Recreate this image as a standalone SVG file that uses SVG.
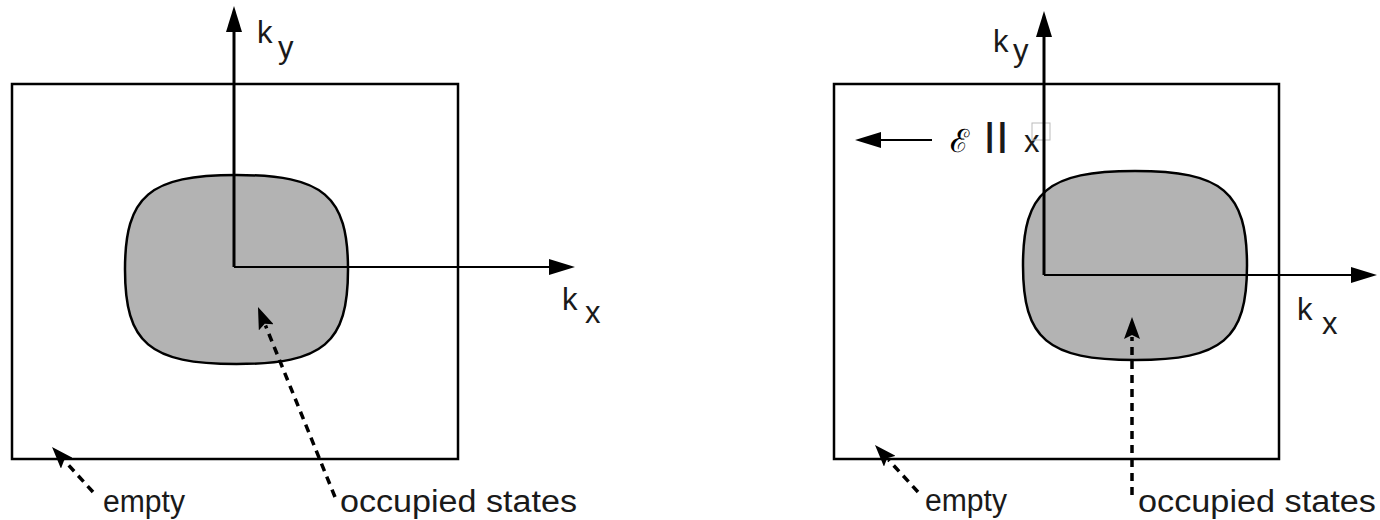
<svg xmlns="http://www.w3.org/2000/svg" width="1380" height="520" viewBox="0 0 1380 520">
<style>
.box{fill:none;stroke:#000;stroke-width:2.5}
.blob{fill:#b3b3b3;stroke:#000;stroke-width:2.5}
.axv{fill:none;stroke:#000;stroke-width:3}
.axh{fill:none;stroke:#000;stroke-width:2}
.dash{fill:none;stroke:#000;stroke-width:3.5;stroke-dasharray:8 6}
.t{font-family:"Liberation Sans",Arial,sans-serif;fill:#1a1a1a}
.lbl{font-size:31px}
.ax{font-size:31px}
</style>
<defs>
<marker id="ah" viewBox="0 0 26 16" refX="2" refY="8" markerWidth="26" markerHeight="16" markerUnits="userSpaceOnUse" orient="auto">
<path d="M0,0 L26,8 L0,16 z" fill="#000"/>
</marker>
<marker id="dh" viewBox="0 0 22 16" refX="2" refY="8" markerWidth="22" markerHeight="16" markerUnits="userSpaceOnUse" orient="auto">
<path d="M0,0 L22,8 L0,16 L4,8 z" fill="#000"/>
</marker>
</defs>

<g id="left-panel">
<rect class="box" x="12" y="84" width="446" height="375"/>
<path id="left-blob" class="blob" d="M236.5,175 C323.5,175 348,195.8 348,269.5 C348,343.2 323.5,364 236.5,364 C149.5,364 125,343.2 125,269.5 C125,195.8 149.5,175 236.5,175 Z"/>
<text class="t ax" x="257" y="43">k</text>
<text class="t ax" x="278" y="58">y</text>
<text class="t ax" x="562" y="310">k</text>
<text class="t ax" x="585" y="323">x</text>
<text class="t lbl" x="103" y="512" textLength="82" lengthAdjust="spacingAndGlyphs">empty</text>
<text class="t lbl" x="340" y="512" textLength="237" lengthAdjust="spacingAndGlyphs">occupied states</text>
</g>

<g id="right-panel">
<rect class="box" x="834" y="84" width="445" height="375"/>
<path id="right-blob" class="blob" d="M1135,171 C1222.4,171 1247,191.8 1247,265.5 C1247,339.2 1222.4,360 1135,360 C1047.6,360 1023,339.2 1023,265.5 C1023,191.8 1047.6,171 1135,171 Z"/>
<text class="t ax" x="993" y="52">k</text>
<text class="t ax" x="1013" y="61">y</text>
<text class="t ax" x="1297" y="320">k</text>
<text class="t ax" x="1322" y="334">x</text>
<text x="950" y="152" font-size="32" font-family="DejaVu Serif, serif">ℰ</text>
<text class="t" x="985" y="146" font-size="33" font-weight="bold" letter-spacing="3.5">||</text>
<text class="t" x="1024" y="152" font-size="31">x</text>
<rect x="1032" y="123" width="18" height="17" fill="none" stroke="#bbb" stroke-width="1"/>
<text class="t lbl" x="925" y="511" textLength="82" lengthAdjust="spacingAndGlyphs">empty</text>
<text class="t lbl" x="1138" y="512" textLength="238" lengthAdjust="spacingAndGlyphs">occupied states</text>
</g>

<g id="connectors">
<line class="axv" x1="234" y1="267" x2="234" y2="30" marker-end="url(#ah)"/>
<line class="axh" x1="234" y1="267" x2="551" y2="267" marker-end="url(#ah)"/>
<line class="axv" x1="1044" y1="275" x2="1044" y2="35" marker-end="url(#ah)"/>
<line class="axh" x1="1044" y1="275" x2="1353" y2="275" marker-end="url(#ah)"/>
<line class="axh" x1="932" y1="140" x2="879" y2="140" marker-end="url(#ah)"/>
<line class="dash" x1="93" y1="492" x2="65.5" y2="461.8" marker-end="url(#dh)"/>
<line class="dash" x1="918" y1="492" x2="888.5" y2="459.8" marker-end="url(#dh)"/>
<line class="dash" x1="335" y1="497" x2="265.5" y2="325.5" marker-end="url(#dh)"/>
<line class="dash" x1="1132" y1="495" x2="1132" y2="337" marker-end="url(#dh)"/>
</g>
</svg>
